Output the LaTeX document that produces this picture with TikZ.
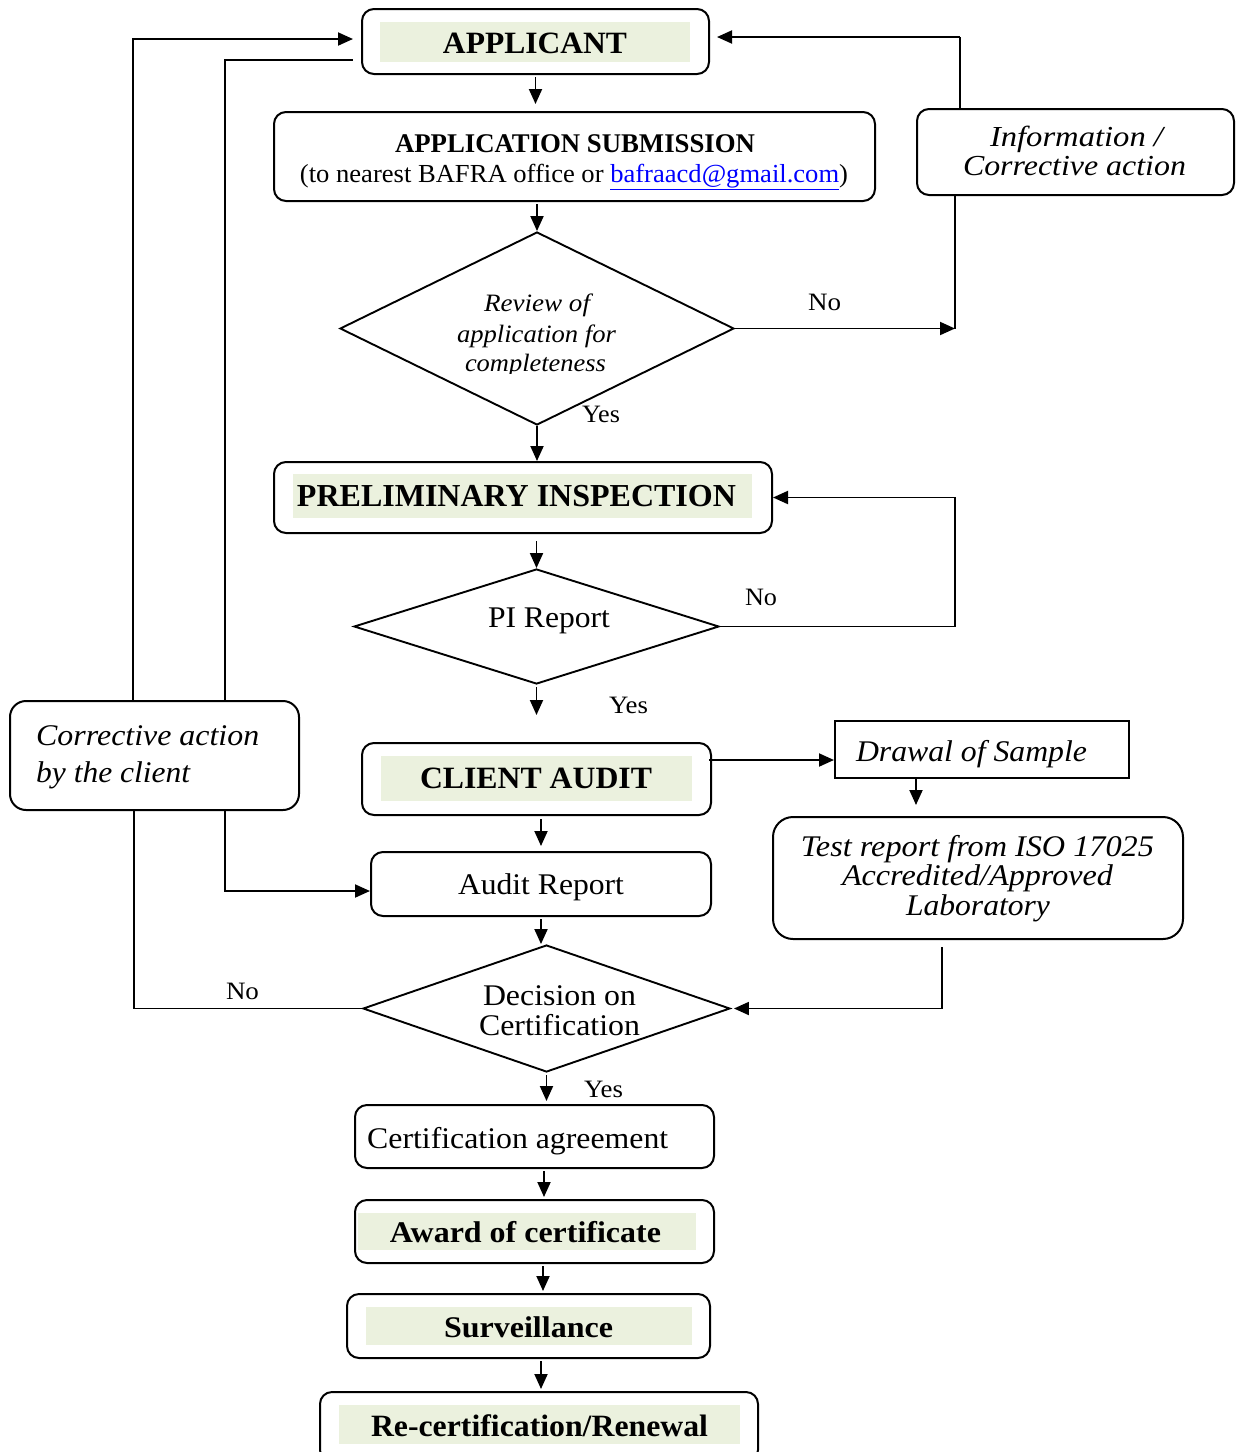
\documentclass[tikz,border=0pt]{standalone}
\usepackage{fontspec}
\setmainfont{Liberation Serif}
\usetikzlibrary{arrows.meta,shapes.geometric}
\definecolor{hl}{RGB}{235,241,222}
\definecolor{linkblue}{RGB}{0,0,255}
\newcommand{\tw}[2]{\resizebox{#1}{\height}{#2}}
\begin{document}
\begin{tikzpicture}[x=1pt,y=-1pt,
  box/.style={draw,line width=2pt,rounded corners=12pt,inner sep=0pt},
  sbox/.style={draw,line width=2pt,inner sep=0pt},
  dia/.style={draw,line width=1.9pt,shape=diamond,inner sep=0pt},
  hlbar/.style={fill=hl,inner sep=0pt},
  txt/.style={inner sep=0pt,anchor=base,font=\fontsize{30}{36}\selectfont},
  btxt/.style={txt,font=\bfseries\fontsize{31}{36}\selectfont},
  itxt/.style={txt,font=\itshape\fontsize{30}{36}\selectfont},
  lab/.style={txt,font=\fontsize{25}{30}\selectfont},
  conn/.style={line width=1.9pt},
  arr/.style={conn,-{Triangle[length=15pt 0,width=13pt 0]}}]
\useasboundingbox (0,0) rectangle (1243,1452);

% ---------- boxes ----------
\node[box,minimum width=347pt,minimum height=65pt] (app) at (535.5,41.5) {};
\node[hlbar,minimum width=310pt,minimum height=40pt] (appbar) at (535,42) {};
\node[btxt] (tapp) at (535,53) {\tw{184pt}{APPLICANT}};

\node[box,minimum width=601pt,minimum height=89pt] (sub) at (574.5,156.5) {};
\node[btxt,font=\bfseries\fontsize{27}{32}\selectfont] (tsub1) at (575,152) {\tw{360pt}{APPLICATION SUBMISSION}};
\node[txt,font=\fontsize{26}{31}\selectfont] (tsub2) at (574,182) {\tw{548pt}{(to nearest BAFRA office or \textcolor{linkblue}{\underline{bafraacd@gmail.com}})}};

\node[dia,minimum width=394pt,minimum height=193pt] (rev) at (537,328.5) {};
\node[itxt,font=\itshape\fontsize{25}{30}\selectfont] (trev1) at (537,311) {\tw{106pt}{Review of}};
\node[itxt,font=\itshape\fontsize{25}{30}\selectfont] (trev2) at (536.5,342) {\tw{159pt}{application for}};
\begin{scope}
\clip (430,345) rectangle (650,373);
\node[itxt,font=\itshape\fontsize{25}{30}\selectfont] (trev3) at (535.5,371) {\tw{141pt}{completeness}};
\end{scope}

\node[box,minimum width=317pt,minimum height=86pt] (info) at (1075.5,152) {};
\node[itxt,font=\itshape\fontsize{29}{34}\selectfont] (tinfo1) at (1076.5,146) {\tw{173pt}{Information /}};
\node[itxt,font=\itshape\fontsize{29}{34}\selectfont] (tinfo2) at (1074.5,175) {\tw{223pt}{Corrective action}};

\node[box,minimum width=498pt,minimum height=71pt] (pi) at (523,497.5) {};
\node[hlbar,minimum width=459pt,minimum height=44pt] (pibar) at (522.5,496) {};
\node[btxt,font=\bfseries\fontsize{32}{38}\selectfont] (tpi) at (516.5,506) {\tw{439pt}{PRELIMINARY INSPECTION}};

\node[dia,minimum width=365pt,minimum height=115pt] (pid) at (536.5,626.5) {};
\node[txt] (tpid) at (549,627) {\tw{122pt}{PI Report}};

\node[box,minimum width=349pt,minimum height=72pt] (ca) at (536.5,779) {};
\node[hlbar,minimum width=311pt,minimum height=45pt] (cabar) at (536.5,778.5) {};
\node[btxt] (tca) at (536,788) {\tw{232pt}{CLIENT AUDIT}};

\node[sbox,minimum width=294pt,minimum height=57pt] (drawal) at (982,749.5) {};
\node[itxt] (tdrawal) at (971.5,761) {\tw{231pt}{Drawal of Sample}};

\node[box,rounded corners=20pt,minimum width=410pt,minimum height=122pt] (test) at (978,878) {};
\node[itxt] (ttest1) at (977.5,856) {\tw{353pt}{Test report from ISO 17025}};
\node[itxt] (ttest2) at (977.5,885) {\tw{271pt}{Accredited/Approved}};
\node[itxt] (ttest3) at (978,915) {\tw{144pt}{Laboratory}};

\node[box,minimum width=340pt,minimum height=64pt] (ar) at (541,884) {};
\node[txt] (tar) at (541,894) {\tw{166pt}{Audit Report}};

\node[dia,minimum width=367pt,minimum height=127pt] (dec) at (546.5,1008.5) {};
\node[txt] (tdec1) at (559.5,1005) {\tw{153pt}{Decision on}};
\node[txt] (tdec2) at (559.5,1035) {\tw{161pt}{Certification}};

\node[box,rounded corners=16pt,minimum width=289pt,minimum height=109pt] (corr) at (154.5,755.5) {};
\node[itxt,anchor=base west] (tcorr1) at (36,745) {\tw{223pt}{Corrective action}};
\node[itxt,anchor=base west] (tcorr2) at (36,782) {\tw{154pt}{by the client}};

\node[box,minimum width=359pt,minimum height=63pt] (cert) at (534.5,1136.5) {};
\node[txt,anchor=base west] (tcert) at (367,1148) {\tw{301pt}{Certification agreement}};

\node[box,minimum width=359pt,minimum height=63pt] (award) at (534.5,1231.5) {};
\node[hlbar,minimum width=338pt,minimum height=37pt] (awardbar) at (527,1231.5) {};
\node[btxt,font=\bfseries\fontsize{30}{36}\selectfont] (taward) at (525.5,1242) {\tw{271pt}{Award of certificate}};

\node[box,minimum width=363pt,minimum height=64pt] (surv) at (528.5,1326) {};
\node[hlbar,minimum width=326pt,minimum height=38pt] (survbar) at (529,1326) {};
\node[btxt,font=\bfseries\fontsize{30}{36}\selectfont] (tsurv) at (528.5,1337) {\tw{169pt}{Surveillance}};

\node[box,minimum width=438pt,minimum height=70pt] (renew) at (539,1427) {};
\node[hlbar,minimum width=401pt,minimum height=39pt] (renewbar) at (539.5,1424.5) {};
\node[btxt] (trenew) at (539.5,1436) {\tw{337pt}{Re-certification/Renewal}};

% ---------- labels ----------
\node[lab] (no1) at (824.5,310) {\tw{33pt}{No}};
\node[lab] (yes1) at (601,422) {\tw{38pt}{Yes}};
\node[lab] (no2) at (761,605) {\tw{32pt}{No}};
\node[lab] (yes2) at (628.5,713) {\tw{39pt}{Yes}};
\node[lab] (no3) at (242.5,999) {\tw{33pt}{No}};
\node[lab] (yes3) at (603.5,1097) {\tw{39pt}{Yes}};

% ---------- helper coordinates ----------
\coordinate (rj) at (955,328.5);
\coordinate (ij) at (960,37);
\coordinate (pj) at (955,626.5);
\coordinate (cd) at (709,760);
\coordinate (dt) at (916,780);
\coordinate (tj) at (942,1008.5);
\coordinate (dl) at (134,1008.5);
\coordinate (cl) at (133,39);
\coordinate (cm) at (225,60);
\coordinate (cb) at (225,891);

% ---------- connectors ----------
\draw[arr,shorten <=2pt,shorten >=7pt] (app.south) -- (app.south |- sub.north);
\draw[arr,shorten <=2pt] (rev.north |- sub.south) -- (rev.north);
\draw[arr] (rev.south) -- (rev.south |- pi.north);
\draw[arr] (rev.east) -- (rj);
\draw[conn] (rj) -- (rj |- info.south);
\draw[conn] (ij |- info.north) -- (ij);
\draw[arr,shorten >=7pt] (ij) -- (ij -| app.east);
\draw[arr,shorten <=7pt] (pid.north |- pi.south) -- (pid.north);
\draw[arr] (pid.east) -- (pj) -- (pj |- pi.east) -- (pi.east);
\draw[arr,shorten <=2pt,shorten >=27pt] (pid.south) -- (pid.south |- ca.north);
\draw[arr] (cd) -- (cd -| drawal.west);
\draw[arr,shorten >=11pt] (dt |- drawal.south) -- (dt |- test.north);
\draw[conn,shorten <=7pt] (tj |- test.south) -- (tj);
\draw[arr,shorten >=3pt] (tj) -- (dec.east);
\draw[arr,shorten <=3pt,shorten >=5pt] (ar.north |- ca.south) -- (ar.north);
\draw[arr,shorten <=2pt] (ar.south) -- (ar.south |- dec.north);
\draw[conn] (dec.west) -- (dl) -- (dl |- corr.south);
\draw[arr,shorten >=8pt] (cl |- corr.north) -- (cl) -- (cl -| app.west);
\draw[conn,shorten >=8pt] (cm |- corr.north) -- (cm) -- (cm -| app.west);
\draw[arr] (cb |- corr.south) -- (cb) -- (cb -| ar.west);
\draw[arr,shorten <=2pt,shorten >=3pt] (dec.south) -- (dec.south |- cert.north);
\draw[arr,shorten <=2pt,shorten >=2pt] ([xshift=9.5pt]cert.south) -- ([xshift=9.5pt]cert.south |- award.north);
\draw[arr,shorten <=2pt,shorten >=2pt] ([xshift=8.5pt]award.south) -- ([xshift=8.5pt]award.south |- surv.north);
\draw[arr,shorten <=2pt,shorten >=2pt] ([xshift=12.5pt]surv.south) -- ([xshift=12.5pt]surv.south |- renew.north);
\end{tikzpicture}
\end{document}
